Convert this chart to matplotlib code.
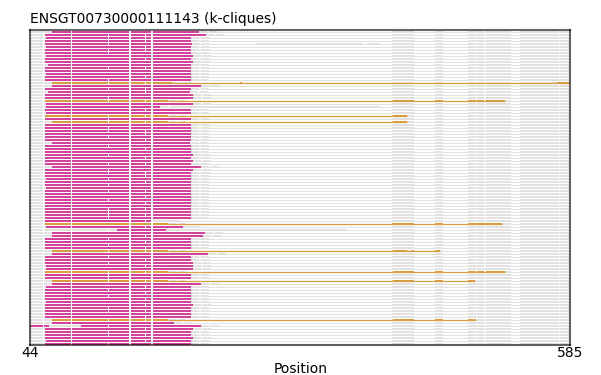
import matplotlib.pyplot as plt

title = "ENSGT00730000111143 (k-cliques)"
x_min, x_max = 44, 585

# one entry per sequence row, top to bottom: M = magenta clique, O = orange clique
row_kind = list("MMMMMMMMMMMMMMMMMOMMMMMOMMMMOMO" + "M" * 33 + "OMMMMMMMMOMMMMMMOMMOMMMMMMMMMMMMOMMMMMMMM")

row_start = [66, 59, 60, 59, 59, 60, 59, 59, 60, 59,
             59, 62, 59, 59, 60, 59, 59, 66, 66, 59,
             62, 59, 59, 59, 60, 60, 59, 60, 59, 59,
             66, 59, 59, 59, 59, 59, 59, 66, 59, 59,
             59, 59, 59, 59, 59, 66, 59, 59, 59, 60,
             59, 59, 60, 59, 59, 59, 59, 59, 59, 59,
             59, 59, 59, 59, 59, 60, 131, 66, 66, 59,
             59, 59, 59, 66, 66, 59, 59, 59, 60, 60,
             59, 59, 59, 66, 66, 60, 59, 59, 59, 59,
             60, 59, 59, 59, 59, 59, 66, 66, 44, 59,
             59, 59, 59, 60, 59]

row_end = [213, 220, 205, 205, 206, 205, 205, 205, 207, 205,
           207, 205, 205, 205, 205, 205, 205, 187, 215, 205,
           204, 207, 207, 182, 207, 174, 205, 205, 182, 205,
           182, 205, 205, 205, 205, 205, 205, 204, 205, 205,
           205, 207, 205, 207, 205, 215, 207, 205, 205, 205,
           205, 205, 205, 205, 205, 205, 205, 205, 205, 205,
           205, 205, 205, 167, 182, 197, 180, 219, 217, 205,
           205, 205, 205, 182, 222, 205, 205, 207, 207, 207,
           182, 205, 205, 182, 215, 205, 205, 205, 205, 205,
           205, 207, 205, 205, 205, 205, 182, 188, 215, 207,
           205, 205, 207, 205, 205]

# orange rows: thin line end and extra thick pieces on the right
orange_line_end = {17: 585, 23: 520, 28: 421, 30: 421, 64: 517,
                   73: 454, 80: 520, 83: 490, 96: 491}
orange_right = {
    17: [(254, 256), (572, 585)],
    23: [(407, 428), (449, 457), (483, 491), (492, 499), (501, 520)],
    28: [(407, 421)],
    30: [(407, 421)],
    64: [(406, 428), (449, 457), (483, 517)],
    73: [(407, 421), (426, 428), (449, 454)],
    80: [(407, 428), (449, 457), (483, 491), (492, 499), (501, 520)],
    83: [(407, 428), (449, 457), (483, 490)],
    96: [(407, 428), (449, 457), (483, 488), (489, 491)],
}

# a gap inside the clique region
row_gap = {98: (63, 95)}

# other aligned (gray) pieces
right_gray = [(406, 428), (449, 457), (483, 491), (492, 499), (501, 526), (535, 574), (575, 584)]
extra_gray = {4: [(270, 377), (381, 394)], 25: [(188, 394)],
              63: [(167, 194)], 66: [(44, 131), (180, 360)]}

# white marks across the rows
common_marks = [(56.5, 58), (85, 86.5), (143.3, 144.8), (165.3, 166.8)]
mark_122_rows = [1, 2, 3, 4, 6, 7, 12, 16, 17, 19, 22, 23, 28, 29, 30, 32, 33, 35, 38,
                 41, 44, 46, 47, 49, 51, 53, 56, 59, 60, 61, 62, 66, 69, 71, 73, 75,
                 77, 80, 81, 82, 83, 86, 88, 92, 93, 96, 98, 100, 101, 104]
mark_159_rows = [1, 2, 3, 5, 6, 9, 12, 15, 17, 19, 20, 23, 26, 28, 30, 33, 34, 36, 39,
                 42, 44, 47, 48, 50, 53, 55, 57, 59, 61, 63, 65, 68, 70, 72, 73, 76,
                 78, 80, 83, 85, 87, 89, 91, 93, 95, 96, 99, 101, 103]

magenta = '#d4439b'
orange = '#d69c3e'
gray = '#e1e1e1'
h = 0.68

fig = plt.figure(figsize=(6.01, 3.75), dpi=100)
ax = fig.add_axes([0.05, 0.08, 0.899, 0.84])

for i, kind in enumerate(row_kind):
    s, e = row_start[i], row_end[i]
    col = magenta if kind == 'M' else orange

    # thin line for the whole alignment
    ax.hlines(i, x_min, x_max, color=gray, lw=0.75, zorder=1)

    segs = [(x_min, s - x_min), (e, 8), (e + 10, 8)] + [(a, b - a) for a, b in right_gray]
    segs += [(a, b - a) for a, b in extra_gray.get(i, [])]
    ax.broken_barh(segs, (i - h / 2, h), facecolors=gray, zorder=1.2)

    if kind == 'O':
        ax.hlines(i, e, orange_line_end[i], color=orange, lw=0.9, zorder=1.5)
        ax.broken_barh([(a, b - a) for a, b in orange_right[i]], (i - h / 2, h),
                       facecolors=orange, zorder=1.6)

    if i in row_gap:
        g0, g1 = row_gap[i]
        ax.broken_barh([(s, g0 - s), (g1, e - g1)], (i - h / 2, h), facecolors=col, zorder=1.6)
        ax.broken_barh([(g0, g1 - g0)], (i - h / 2, h), facecolors=gray, zorder=1.6)
    else:
        ax.broken_barh([(s, e - s)], (i - h / 2, h), facecolors=col, zorder=1.6)

    marks = list(common_marks)
    if i in mark_122_rows:
        marks.append((122, 123.2))
    if i in mark_159_rows:
        marks.append((158.8, 160))
    ax.broken_barh([(a, b - a) for a, b in marks], (i - h / 2, h),
                   facecolors='white', zorder=1.8)

ax.set_xlim(x_min, x_max)
ax.set_ylim(104.23, -0.77)
ax.set_xticks([x_min, x_max])
ax.set_yticks([])
ax.tick_params(axis='x', length=0, pad=0.5, labelsize=10)
for sp in ax.spines.values():
    sp.set_color((0, 0, 0, 0.6))
    sp.set_linewidth(1.5)
ax.set_xlabel("Position", fontsize=10, labelpad=1.5)
ax.set_title(title, loc='left', fontsize=10, pad=5)

fig.savefig("out.png", dpi=100)
